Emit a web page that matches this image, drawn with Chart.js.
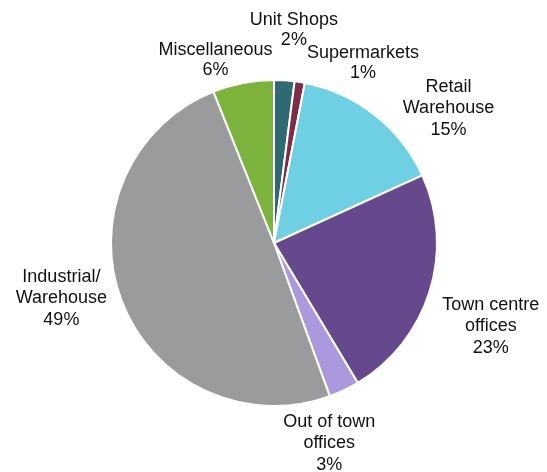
<!DOCTYPE html>
<html>
<head>
<meta charset="utf-8">
<script src="https://cdn.jsdelivr.net/npm/chart.js@4"></script>
<style>
	body { margin: 0; background: #fff; }
	canvas { display: block; }
</style>
</head>
<body>
<canvas id="chart__pie" width="547" height="472"></canvas>
<script>
// Sector names (each line is drawn on its own row) and their shares in %
const categories = [
	["Unit Shops"],
	["Supermarkets"],
	["Retail", "Warehouse"],
	["Town centre", "offices"],
	["Out of town", "offices"],
	["Industrial/", "Warehouse"],
	["Miscellaneous"],
];
const shares = [2, 1, 15, 23, 3, 49, 6];

const sliceColors = ["#2f6a73", "#7d2c4b", "#6fd0e4", "#66488d", "#ac98dd", "#9a9b9c", "#7bb33c"];

// Nudges for the labels, relative to a point just outside each slice
const labelNudges = [
	[7, -10],
	[57, 20],
	[49, 25],
	[23, 23],
	[-32, 17],
	[-23, -17],
	[-20, 16],
];

document.addEventListener("DOMContentLoaded", () => {
	initChartPie();
});

// Draw slice labels outside the pie
const outsideLabelsPlugin = () => ({
	id: "outsideLabels",
	afterDraw: (chart) => {
		const ctx = chart.ctx;
		const meta = chart.getDatasetMeta(0);
		ctx.save();
		ctx.font = "18px 'Liberation Sans', Arial, sans-serif";
		ctx.fillStyle = "#111";
		ctx.textAlign = "center";
		ctx.textBaseline = "middle";
		meta.data.forEach((arc, i) => {
			const mid = (arc.startAngle + arc.endAngle) / 2;
			const r = arc.outerRadius + 40;
			const x = arc.x + Math.cos(mid) * r + labelNudges[i][0];
			const y = arc.y + Math.sin(mid) * r + labelNudges[i][1];
			const lines = [...categories[i], `${shares[i]}%`];
			const lineHeight = lines.length > 2 ? 21.5 : 20;
			const top = y - ((lines.length - 1) * lineHeight) / 2;
			lines.forEach((line, j) => ctx.fillText(line, x, top + j * lineHeight));
		});
		ctx.restore();
	},
});

const initChartPie = () => {
	const ctx = document.getElementById("chart__pie");
	if (!ctx) return;
	new Chart(ctx, {
		type: "pie",
		data: {
			labels: categories.map((c) => c.join(" ")),
			datasets: [
				{
					data: shares,
					backgroundColor: sliceColors,
					borderColor: "#fff",
					borderWidth: 2,
				},
			],
		},
		options: {
			responsive: false,
			animation: false,
			devicePixelRatio: 1,
			layout: {
				padding: { top: 79, bottom: 65, left: 110, right: 109 },
			},
			plugins: {
				legend: { display: false },
				tooltip: { enabled: false },
			},
		},
		plugins: [outsideLabelsPlugin()],
	});
};
</script>
</body>
</html>
